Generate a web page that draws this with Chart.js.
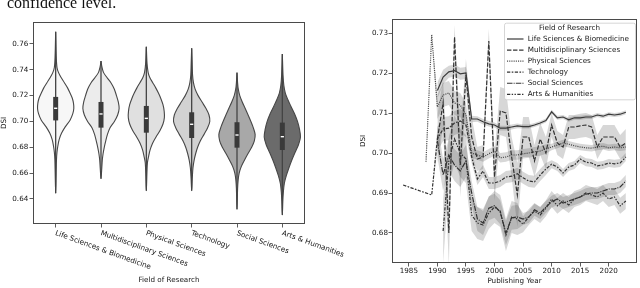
<!DOCTYPE html>
<html><head><meta charset="utf-8">
<script src="https://cdn.jsdelivr.net/npm/chart.js@4.4.1/dist/chart.umd.min.js"></script>
<style>
html,body{margin:0;padding:0;background:#fff;}
#wrap{position:relative;width:640px;height:288px;overflow:hidden;background:#fff;}
#cap{position:absolute;left:7px;top:-5px;font-family:'Liberation Serif','Times New Roman',serif;font-size:16px;line-height:16px;color:#111;white-space:nowrap;}
#c1{position:absolute;left:0;top:0;}
#c2{position:absolute;left:360px;top:0;}
</style></head><body>
<div id="wrap">
<canvas id="c1" width="360" height="288"></canvas>
<canvas id="c2" width="280" height="288"></canvas>
<div id="cap">confidence level.</div>
</div>
<script>
// ---------- shared categories ----------
const fields = ['Life Sciences & Biomedicine','Multidisciplinary Sciences','Physical Sciences','Technology','Social Sciences','Arts & Humanities'];

// ---------- left panel: violins (DSI level, estimated KDE half-width) ----------
const lifeViolinDSI      = [0.6444,0.660,0.670,0.676,0.681,0.686,0.691,0.696,0.701,0.706,0.710,0.714,0.718,0.722,0.726,0.730,0.734,0.738,0.742,0.750,0.7695];
const lifeViolinDensity  = [0,0.5,0.8,1.3,2.2,3.5,6.0,9.8,14.5,17.3,18.3,18.0,16.8,14.5,12.0,8.8,5.5,2.8,1.3,0.6,0];
const multiViolinDSI     = [0.6557,0.664,0.670,0.675,0.680,0.685,0.690,0.695,0.700,0.705,0.710,0.715,0.720,0.725,0.730,0.734,0.738,0.742,0.7468];
const multiViolinDensity = [0,0.8,1.3,2.1,3.3,4.8,6.5,9.0,13.5,16.8,18.3,17.5,15.6,13.5,10.0,6.0,2.5,1.0,0];
const physViolinDSI      = [0.6464,0.660,0.668,0.673,0.678,0.683,0.688,0.693,0.698,0.703,0.708,0.713,0.718,0.722,0.726,0.730,0.734,0.738,0.745,0.7579];
const physViolinDensity  = [0,0.6,1.1,2.3,3.8,6.2,9.8,13.8,16.8,18.2,18.0,16.8,14.5,12.2,9.5,6.5,3.5,1.8,0.7,0];
const techViolinDSI      = [0.6464,0.656,0.664,0.670,0.675,0.680,0.685,0.690,0.695,0.700,0.705,0.710,0.715,0.720,0.725,0.730,0.736,0.745,0.7566];
const techViolinDensity  = [0,0.6,1.3,2.5,4.0,6.0,8.8,12.5,16.0,18.3,17.5,14.5,10.5,6.5,3.5,1.8,0.9,0.5,0];
const socViolinDSI       = [0.6320,0.648,0.655,0.660,0.665,0.670,0.675,0.680,0.685,0.690,0.695,0.700,0.705,0.710,0.715,0.720,0.725,0.730,0.7378];
const socViolinDensity   = [0,0.6,1.2,2.2,4.3,7.5,11.0,14.8,17.5,18.3,16.5,14.0,11.2,8.3,5.3,2.8,1.3,0.6,0];
const artsViolinDSI      = [0.6276,0.638,0.645,0.652,0.658,0.664,0.670,0.676,0.682,0.688,0.694,0.700,0.706,0.712,0.717,0.722,0.728,0.736,0.7523];
const artsViolinDensity  = [0,0.5,1.0,2.0,4.0,6.6,9.5,12.8,16.3,18.3,17.3,15.3,12.3,8.5,5.5,3.0,1.5,0.7,0];

const boxQ1       = [0.7008,0.6952,0.6913,0.6872,0.6797,0.6779];
const boxMedian   = [0.7102,0.7058,0.7024,0.6978,0.6895,0.6882];
const boxQ3       = [0.7190,0.7151,0.7120,0.7071,0.6994,0.6991];
const whiskerLow  = [0.6444,0.6557,0.6464,0.6464,0.6320,0.6276];
const whiskerHigh = [0.7695,0.7468,0.7579,0.7566,0.7378,0.7523];
const violinTicks = [0.64,0.66,0.68,0.70,0.72,0.74,0.76];

// ---------- right panel: yearly mean DSI and CI half-width ----------
const lifeYears = [1990,1991,1992,1993,1994,1995,1996,1997,1998,1999,2000,2001,2002,2003,2004,2005,2006,2007,2008,2009,2010,2011,2012,2013,2014,2015,2016,2017,2018,2019,2020,2021,2022,2023];
const lifeDSI   = [0.7156,0.7190,0.7203,0.7206,0.7198,0.7200,0.7085,0.7085,0.7078,0.7073,0.7070,0.7062,0.7062,0.7065,0.7068,0.7066,0.7066,0.7070,0.7075,0.7081,0.7103,0.7088,0.7090,0.7083,0.7088,0.7088,0.7090,0.7090,0.7095,0.7092,0.7097,0.7095,0.7097,0.7102];
const lifeCI    = [0.0020,0.0018,0.0015,0.0015,0.0015,0.0015,0.0008,0.0007,0.0007,0.0007,0.0006,0.0006,0.0006,0.0006,0.0006,0.0005,0.0005,0.0005,0.0005,0.0005,0.0005,0.0005,0.0005,0.0005,0.0005,0.0005,0.0005,0.0005,0.0005,0.0005,0.0005,0.0005,0.0005,0.0005];

const multiYears = [1990,1991,1992,1993,1994,1995,1996,1997,1998,1999,2000,2001,2002,2003,2004,2005,2006,2007,2008,2009,2010,2011,2012,2013,2014,2015,2016,2017,2018,2019,2020,2021,2022,2023];
const multiDSI   = [0.7035,0.7125,0.6800,0.7290,0.6970,0.7195,0.7040,0.6985,0.6990,0.7280,0.6940,0.7105,0.7100,0.6990,0.6895,0.7040,0.7040,0.6980,0.7035,0.7000,0.7070,0.7025,0.7015,0.7065,0.7065,0.7068,0.7070,0.7065,0.7015,0.7040,0.7040,0.7040,0.7015,0.7025];
const multiCI    = [0.006,0.006,0.008,0.003,0.008,0.004,0.005,0.003,0.003,0.003,0.006,0.006,0.006,0.005,0.008,0.005,0.005,0.004,0.004,0.004,0.003,0.003,0.003,0.003,0.003,0.003,0.003,0.003,0.003,0.003,0.003,0.003,0.003,0.0035];

const physYears = [1988,1989,1990,1991,1992,1993,1994,1995,1996,1997,1998,1999,2000,2001,2002,2003,2004,2005,2006,2007,2008,2009,2010,2011,2012,2013,2014,2015,2016,2017,2018,2019,2020,2021,2022,2023];
const physDSI   = [0.6978,0.7296,0.7115,0.7145,0.7150,0.7125,0.7120,0.7095,0.7000,0.6995,0.6990,0.6998,0.7005,0.6988,0.6990,0.6995,0.6995,0.6998,0.7000,0.7003,0.7005,0.7010,0.7015,0.7020,0.7025,0.7022,0.7018,0.7015,0.7013,0.7012,0.7015,0.7017,0.7013,0.7015,0.7013,0.7015];
const physCI    = [0.001,0,0.003,0.003,0.003,0.003,0.003,0.003,0.0012,0.0012,0.0012,0.0012,0.0012,0.0012,0.0012,0.0012,0.0012,0.0012,0.0012,0.0012,0.0012,0.0012,0.0008,0.0008,0.0008,0.0008,0.0008,0.0008,0.0008,0.0008,0.0008,0.0008,0.0008,0.0008,0.0008,0.0008];

const techYears = [1984,1989,1990,1991,1992,1993,1994,1995,1996,1997,1998,1999,2000,2001,2002,2003,2004,2005,2006,2007,2008,2009,2010,2011,2012,2013,2014,2015,2016,2017,2018,2019,2020,2021,2022,2023];
const techDSI   = [0.6920,0.6895,0.7035,0.7060,0.7062,0.7075,0.7080,0.7070,0.6990,0.6935,0.6955,0.6925,0.6925,0.6930,0.6940,0.6942,0.6948,0.6938,0.6930,0.6928,0.6945,0.6960,0.6972,0.6965,0.6950,0.6965,0.6970,0.6985,0.6977,0.6975,0.6968,0.6970,0.6975,0.6973,0.6975,0.6990];
const techCI    = [0,0,0.003,0.003,0.003,0.003,0.003,0.003,0.0015,0.0015,0.0015,0.0015,0.0015,0.0015,0.0015,0.0015,0.0015,0.0015,0.0015,0.0015,0.0015,0.0015,0.001,0.001,0.001,0.001,0.001,0.001,0.001,0.001,0.001,0.001,0.001,0.001,0.001,0.001];

const socYears = [1990,1991,1992,1993,1994,1995,1996,1997,1998,1999,2000,2001,2002,2003,2004,2005,2006,2007,2008,2009,2010,2011,2012,2013,2014,2015,2016,2017,2018,2019,2020,2021,2022,2023];
const socDSI   = [0.7030,0.6945,0.6995,0.6970,0.6955,0.6980,0.6900,0.6835,0.6825,0.6862,0.6868,0.6852,0.6800,0.6838,0.6840,0.6835,0.6840,0.6858,0.6850,0.6865,0.6878,0.6885,0.6875,0.6880,0.6885,0.6890,0.6897,0.6900,0.6900,0.6905,0.6910,0.6910,0.6915,0.6930];
const socCI    = [0.004,0.004,0.004,0.004,0.004,0.004,0.003,0.003,0.003,0.003,0.003,0.003,0.003,0.003,0.003,0.0015,0.0015,0.0015,0.0015,0.0015,0.0015,0.0015,0.0015,0.0015,0.0015,0.0015,0.0015,0.0015,0.0015,0.0015,0.0015,0.0015,0.0015,0.0015];

const artsYears = [1991,1992,1993,1994,1995,1996,1997,1998,1999,2000,2001,2002,2003,2004,2005,2006,2007,2008,2009,2010,2011,2012,2013,2014,2015,2016,2017,2018,2019,2020,2021,2022,2023];
const artsDSI   = [0.6805,0.6980,0.7035,0.7000,0.6985,0.6845,0.6825,0.6820,0.6850,0.6865,0.6855,0.6795,0.6840,0.6835,0.6822,0.6840,0.6855,0.6845,0.6862,0.6885,0.6868,0.6880,0.6870,0.6885,0.6890,0.6900,0.6895,0.6890,0.6900,0.6885,0.6890,0.6868,0.6880];
const artsCI    = [0.008,0.006,0.006,0.006,0.006,0.004,0.004,0.004,0.004,0.004,0.004,0.004,0.004,0.004,0.002,0.002,0.002,0.002,0.002,0.002,0.002,0.002,0.002,0.002,0.002,0.002,0.002,0.002,0.002,0.002,0.002,0.002,0.002];

const yearTicks = [1985,1990,1995,2000,2005,2010,2015,2020];
const trendTicks = [0.68,0.69,0.70,0.71,0.72,0.73];

// ---------- defaults ----------
const FONT = '"DejaVu Sans", sans-serif';
const TEXT = '#161616';
Chart.defaults.font.family = FONT;
Chart.defaults.font.size = 7.2;
Chart.defaults.color = TEXT;
Chart.defaults.animation = false;
Chart.defaults.events = [];
Chart.defaults.plugins.legend.display = false;
Chart.defaults.plugins.tooltip.enabled = false;

function frame(chart){
  const {ctx, chartArea:a} = chart;
  ctx.save();
  ctx.strokeStyle = '#4a4a4a'; ctx.lineWidth = 1;
  ctx.strokeRect(Math.round(a.left)+0.5, Math.round(a.top)+0.5, Math.round(a.right-a.left)-1, Math.round(a.bottom-a.top)-1);
  ctx.restore();
}
const tickGrid = {display:true, drawOnChartArea:false, drawTicks:true, tickLength:3.5, tickColor:'#333', tickWidth:0.8};

// ---------- left chart ----------
const violinDSI = [lifeViolinDSI, multiViolinDSI, physViolinDSI, techViolinDSI, socViolinDSI, artsViolinDSI];
const violinDensity = [lifeViolinDensity, multiViolinDensity, physViolinDensity, techViolinDensity, socViolinDensity, artsViolinDensity];
const violinFill = ['#f7f7f7','#ececec','#e0e0e0','#d2d2d2','#a8a8a8','#6b6b6b'];
const densPeak = 18.3, halfMax = 0.4;
const leftSets = [];
fields.forEach((f,i)=>{
  const L = violinDSI[i], D = violinDensity[i];
  const pts = [];
  for (let k=L.length-1;k>=0;k--) pts.push({x: i + D[k]/densPeak*halfMax, y: L[k]});
  for (let k=1;k<L.length;k++) pts.push({x: i - D[k]/densPeak*halfMax, y: L[k]});
  leftSets.push({data:pts, borderColor:'#474747', borderWidth:1.1, backgroundColor:violinFill[i], fill:'shape', tension:0.3, pointRadius:0, order:3});
  leftSets.push({data:[{x:i,y:whiskerLow[i]},{x:i,y:whiskerHigh[i]}], borderColor:'#444', borderWidth:1.3, pointRadius:0, fill:false, order:2});
  leftSets.push({data:[{x:i,y:boxQ1[i]},{x:i,y:boxQ3[i]}], borderColor:'#3a3a3a', borderWidth:5, borderCapStyle:'butt', pointRadius:0, fill:false, order:1});
  leftSets.push({data:[{x:i,y:boxMedian[i]}], showLine:false, pointStyle:'line', pointRadius:1.6, pointBorderWidth:1.4, pointBorderColor:'#ffffff', pointBackgroundColor:'#ffffff', order:0});
});

const leftDecor = {
  id:'leftDecor',
  afterDraw(chart){
    frame(chart);
    const {ctx, chartArea:a} = chart; const xs = chart.scales.x;
    ctx.save();
    ctx.font = '7.2px ' + FONT; ctx.fillStyle = TEXT;
    ctx.textAlign = 'left'; ctx.textBaseline = 'top';
    fields.forEach((f,i)=>{
      const px = xs.getPixelForValue(i);
      ctx.save(); ctx.translate(px+1, a.bottom+5.5); ctx.rotate(20*Math.PI/180);
      ctx.fillText(f, 0, 0); ctx.restore();
    });
    ctx.restore();
  }
};

new Chart(document.getElementById('c1'), {
  type:'line',
  data:{datasets:leftSets},
  options:{
    responsive:false, devicePixelRatio:1,
    layout:{padding:{left:0, top:22, right:55, bottom:0}},
    scales:{
      x:{type:'linear', min:-0.5, max:5.5, bounds:'data',
         afterBuildTicks:s=>{ s.ticks = fields.map((f,i)=>({value:i})); },
         afterFit:s=>{ s.height = 64; },
         ticks:{display:false}, grid:tickGrid, border:{display:false},
         title:{display:true, text:'Field of Research', padding:{top:0,bottom:4}, font:{size:7.2}}},
      y:{type:'linear', min:0.6206, max:0.777, bounds:'data',
         afterBuildTicks:s=>{ s.ticks = violinTicks.map(v=>({value:v})); },
         afterFit:s=>{ s.width = 33; },
         ticks:{padding:1.2, callback:v=>v.toFixed(2)}, grid:tickGrid, border:{display:false},
         title:{display:true, text:'DSI', padding:{top:0,bottom:0}, font:{size:7.2}}}
    }
  },
  plugins:[leftDecor]
});

// ---------- right chart ----------
const series = [
  {name:fields[0], years:lifeYears,  vals:lifeDSI,  ci:lifeCI,  dash:[],                      color:'#3a3a3a'},
  {name:fields[1], years:multiYears, vals:multiDSI, ci:multiCI, dash:[4.4,1.65],              color:'#333333'},
  {name:fields[2], years:physYears,  vals:physDSI,  ci:physCI,  dash:[1.1,1.1],               color:'#4a4a4a'},
  {name:fields[3], years:techYears,  vals:techDSI,  ci:techCI,  dash:[3.3,1.4,1.65,1.4],      color:'#333333'},
  {name:fields[4], years:socYears,   vals:socDSI,   ci:socCI,   dash:[5.5,1.1,1.1,1.1],       color:'#333333'},
  {name:fields[5], years:artsYears,  vals:artsDSI,  ci:artsCI,  dash:[3.3,1.4,1.4,1.4,1.4,1.4],color:'#333333'}
];
const rightSets = [];
series.forEach(s=>{
  rightSets.push({data:s.years.map((y,i)=>({x:y, y:s.vals[i]-s.ci[i]})), borderColor:'rgba(0,0,0,0)', borderWidth:0, pointRadius:0, fill:false, tension:0, order:10});
  rightSets.push({data:s.years.map((y,i)=>({x:y, y:s.vals[i]+s.ci[i]})), borderColor:'rgba(0,0,0,0)', borderWidth:0, pointRadius:0, fill:'-1', backgroundColor:'rgba(55,55,55,0.2)', tension:0, order:10});
  rightSets.push({data:s.years.map((y,i)=>({x:y, y:s.vals[i]})), borderColor:s.color, borderWidth:1.2, borderDash:s.dash, pointRadius:0, fill:false, tension:0, order:1});
});

const rightDecor = {
  id:'rightDecor',
  afterDatasetsDraw(chart){
    const {ctx, chartArea:a} = chart;
    const w = 131, h = 76.6;
    const x0 = a.right - 2 - w, y0 = a.top + 3.7;
    ctx.save();
    ctx.beginPath();
    if (ctx.roundRect) ctx.roundRect(x0+0.5, y0+0.5, w, h, 2); else ctx.rect(x0+0.5, y0+0.5, w, h);
    ctx.fillStyle = 'rgba(255,255,255,0.85)'; ctx.fill();
    ctx.strokeStyle = '#cccccc'; ctx.lineWidth = 0.8; ctx.stroke();
    ctx.font = '7.2px ' + FONT; ctx.fillStyle = TEXT;
    ctx.textBaseline = 'middle'; ctx.textAlign = 'center';
    ctx.fillText('Field of Research', x0 + w/2, y0 + 5.3);
    ctx.textAlign = 'left';
    series.forEach((s,i)=>{
      const yy = y0 + 16.3 + i*11.06;
      ctx.beginPath(); ctx.setLineDash(s.dash); ctx.strokeStyle = s.color; ctx.lineWidth = 1.2;
      ctx.moveTo(x0+3, yy); ctx.lineTo(x0+19.5, yy); ctx.stroke();
      ctx.setLineDash([]);
      ctx.fillText(s.name, x0 + 23.7, yy);
    });
    ctx.restore();
  },
  afterDraw(chart){ frame(chart); }
};

new Chart(document.getElementById('c2'), {
  type:'line',
  data:{datasets:rightSets},
  options:{
    responsive:false, devicePixelRatio:1,
    layout:{padding:{left:0, top:19, right:3, bottom:0}},
    scales:{
      x:{type:'linear', min:1982.05, max:2024.95, bounds:'data',
         afterBuildTicks:s=>{ s.ticks = yearTicks.map(v=>({value:v})); },
         afterFit:s=>{ s.height = 25; },
         ticks:{padding:0, maxRotation:0, callback:v=>String(v)}, grid:tickGrid, border:{display:false},
         title:{display:true, text:'Publishing Year', padding:{top:0,bottom:2.7}, font:{size:7.2}}},
      y:{type:'linear', min:0.6725, max:0.7335, bounds:'data',
         afterBuildTicks:s=>{ s.ticks = trendTicks.map(v=>({value:v})); },
         afterFit:s=>{ s.width = 32; },
         ticks:{padding:0.5, callback:v=>v.toFixed(2)}, grid:tickGrid, border:{display:false},
         title:{display:true, text:'DSI', padding:{top:-1.5,bottom:0}, font:{size:7.2}}}
    }
  },
  plugins:[rightDecor]
});
</script>
</body></html>
